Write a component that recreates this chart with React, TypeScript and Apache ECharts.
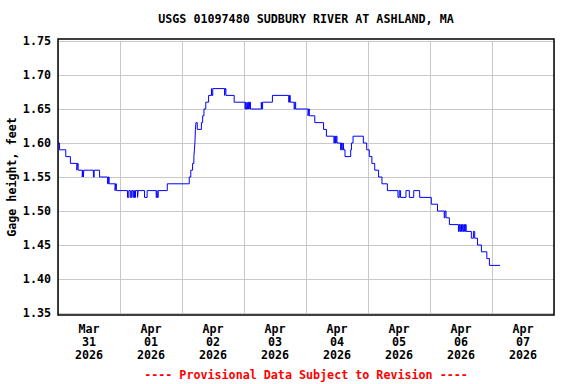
import React, { useEffect, useRef } from "react";
import * as echarts from "echarts";

const titleText = "USGS 01097480 SUDBURY RIVER AT ASHLAND, MA";
const footerText = "---- Provisional Data Subject to Revision ----";
const yAxisName = "Gage height, feet";
const dayLabels = [
  "Mar\n31\n2026",
  "Apr\n01\n2026",
  "Apr\n02\n2026",
  "Apr\n03\n2026",
  "Apr\n04\n2026",
  "Apr\n05\n2026",
  "Apr\n06\n2026",
  "Apr\n07\n2026",
];
const yTicks = { min: 1.35, max: 1.75, step: 0.05 };

// [hours since Mar 31 00:00, gage height ft] — value holds until next change
const mar31 = [
  [0, 1.6], [0.6, 1.59], [3.0, 1.58], [4.8, 1.57], [7.3, 1.56], [7.5, 1.57], [7.8, 1.56],
  [9.4, 1.55], [9.6, 1.56], [9.8, 1.55], [10.0, 1.56], [13.7, 1.55], [14.0, 1.56],
  [16.1, 1.55], [19.2, 1.54], [19.5, 1.55], [19.8, 1.54], [22.1, 1.53], [22.3, 1.54], [22.6, 1.53],
];
const apr01 = [
  [26.9, 1.52], [27.4, 1.53], [28.0, 1.52], [28.5, 1.53], [29.0, 1.52], [29.3, 1.53],
  [29.6, 1.52], [30.0, 1.53], [30.8, 1.52], [31.0, 1.53], [33.5, 1.52], [34.5, 1.53],
  [38.0, 1.52], [38.3, 1.53], [38.5, 1.52], [38.8, 1.53], [42.3, 1.54],
];
const apr02 = [
  [50.8, 1.55], [51.4, 1.56], [52.1, 1.57], [52.6, 1.58], [52.8, 1.59], [53.0, 1.6],
  [53.2, 1.62], [53.4, 1.63], [53.9, 1.62], [55.5, 1.63], [56.0, 1.64], [56.5, 1.65],
  [57.2, 1.66], [58.3, 1.67], [59.4, 1.68], [59.6, 1.67], [59.9, 1.68], [64.5, 1.67],
  [64.7, 1.68], [65.0, 1.67], [68.2, 1.66],
];
const apr03 = [
  [72.4, 1.65], [72.7, 1.66], [72.9, 1.65], [73.2, 1.66], [73.4, 1.65], [73.7, 1.66],
  [74.0, 1.65], [74.2, 1.66], [74.5, 1.65], [78.7, 1.66], [78.9, 1.65], [79.2, 1.66],
  [83.0, 1.67], [89.3, 1.66], [89.6, 1.67], [89.9, 1.66], [91.4, 1.65], [91.7, 1.66], [92.0, 1.65],
];
const apr04 = [
  [96.8, 1.64], [97.0, 1.65], [97.3, 1.64], [99.4, 1.63], [102.8, 1.62], [103.9, 1.61],
  [106.8, 1.6], [107.1, 1.61], [107.4, 1.6], [107.7, 1.61], [108.0, 1.6], [109.4, 1.59],
  [109.7, 1.6], [110.0, 1.59], [110.4, 1.6], [110.6, 1.59], [111.1, 1.58], [113.3, 1.59],
  [113.6, 1.6], [114.2, 1.61], [118.2, 1.6], [119.5, 1.59],
];
const apr05 = [
  [120.5, 1.58], [121.5, 1.57], [122.6, 1.56], [124.1, 1.55], [125.4, 1.54], [127.5, 1.53],
  [131.6, 1.52], [132.1, 1.53], [132.6, 1.52], [134.7, 1.53], [136.0, 1.52], [137.7, 1.53],
  [140.0, 1.52],
];
const apr06 = [
  [144.5, 1.51], [146.9, 1.5], [149.5, 1.49], [149.8, 1.5], [150.2, 1.49], [151.5, 1.48],
  [155.0, 1.47], [155.3, 1.48], [155.6, 1.47], [155.9, 1.48], [156.2, 1.47], [156.5, 1.48],
  [156.8, 1.47], [157.1, 1.48], [157.4, 1.47], [157.7, 1.48], [158.0, 1.47], [160.0, 1.46],
  [160.8, 1.47], [161.3, 1.46], [162.4, 1.45], [163.9, 1.44], [166.0, 1.43], [167.0, 1.42],
];
const apr07 = [[171.1, 1.42]];

const FONT = "'DejaVu Sans Mono', 'Liberation Mono', monospace";
const FS = 11.7;

export default function App() {
  const ref = useRef<HTMLDivElement>(null);
  useEffect(() => {
    if (!ref.current) return;
    const chart = echarts.init(ref.current, undefined, { renderer: "svg" });
    const data = [...mar31, ...apr01, ...apr02, ...apr03, ...apr04, ...apr05, ...apr06, ...apr07];
    const labelStyle = { fontFamily: FONT, fontWeight: "bold" as const, fontSize: FS, color: "#000" };
    chart.setOption({
      animation: false,
      backgroundColor: "#fff",
      grid: { left: 58, right: 22, top: 41, bottom: 71, containLabel: false, outerBoundsMode: "none" },
      xAxis: [
        {
          type: "category",
          data: dayLabels,
          boundaryGap: true,
          axisLine: { show: false },
          axisTick: { show: false },
          splitLine: { show: true, lineStyle: { color: "#c8c8c8", width: 1 } },
          axisLabel: { ...labelStyle, interval: 0, margin: 9, lineHeight: 13 },
        },
        { type: "value", min: 0, max: 192, show: false },
      ],
      yAxis: {
        type: "value",
        min: yTicks.min,
        max: yTicks.max,
        interval: yTicks.step,
        axisLine: { show: false },
        axisTick: { show: false },
        splitLine: { show: true, lineStyle: { color: "#c8c8c8", width: 1 } },
        axisLabel: { ...labelStyle, margin: 7, formatter: (v: number) => v.toFixed(2) },
        name: yAxisName,
        nameLocation: "middle",
        nameGap: 40,
        nameMoveOverlap: false,
        nameTextStyle: { ...labelStyle },
      },
      series: [
        {
          type: "line",
          xAxisIndex: 1,
          step: "end",
          data,
          symbol: "none",
          lineStyle: { color: "#0000ff", width: 1 },
          z: 3,
        },
      ],
      graphic: [
        {
          type: "rect",
          shape: { x: 58, y: 39, width: 496, height: 276 },
          style: { fill: "none", stroke: "#000", lineWidth: 1.5 },
          z: 10,
        },
        {
          type: "text",
          x: 306,
          y: 19,
          style: { text: titleText, fill: "#000", font: `bold ${FS}px ${FONT}`, textAlign: "center", textVerticalAlign: "middle" },
        },
        {
          type: "text",
          x: 306,
          y: 375,
          style: { text: footerText, fill: "#ff0000", font: `bold ${FS}px ${FONT}`, textAlign: "center", textVerticalAlign: "middle" },
        },
      ],
    });
    return () => chart.dispose();
  }, []);
  return <div ref={ref} style={{ width: 576, height: 384, position: "absolute", left: 0, top: 0 }} />;
}
